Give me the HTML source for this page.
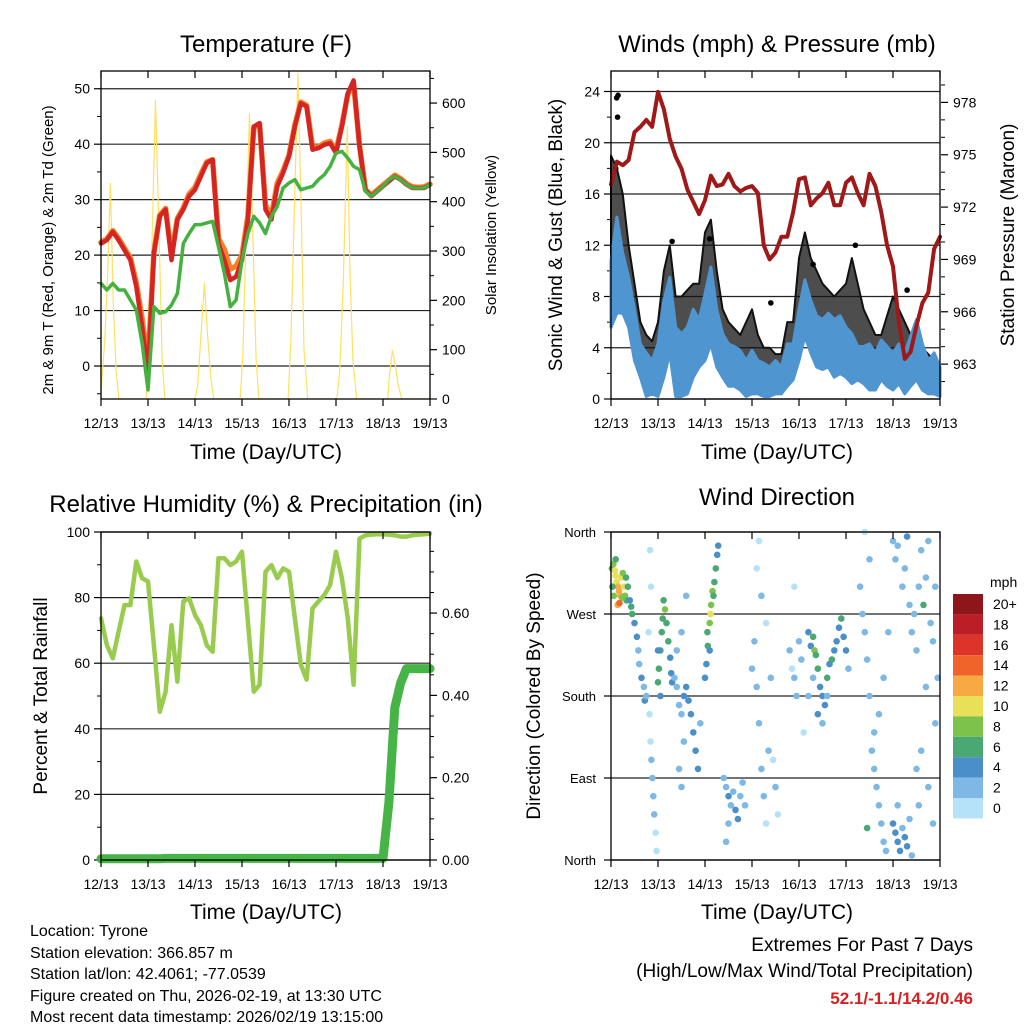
<!DOCTYPE html>
<html><head><meta charset="utf-8"><style>
body{margin:0;background:#fff;width:1024px;height:1024px;overflow:hidden;font-family:"Liberation Sans",sans-serif}
svg{position:absolute;left:0;top:0}
</style></head><body>
<svg id="s" width="1024" height="1024" viewBox="0 0 1024 1024" font-family="Liberation Sans, sans-serif">
<text x="266" y="52" font-size="24" text-anchor="middle">Temperature (F)</text>
<text x="777" y="52" font-size="24" text-anchor="middle">Winds (mph) &amp; Pressure (mb)</text>
<text x="266" y="512" font-size="24" text-anchor="middle">Relative Humidity (%) &amp; Precipitation (in)</text>
<text x="777" y="505" font-size="24" text-anchor="middle">Wind Direction</text>
<text x="266" y="459" font-size="21" text-anchor="middle">Time (Day/UTC)</text>
<text x="777" y="459" font-size="21" text-anchor="middle">Time (Day/UTC)</text>
<text x="266" y="919" font-size="21" text-anchor="middle">Time (Day/UTC)</text>
<text x="777" y="919" font-size="21" text-anchor="middle">Time (Day/UTC)</text>
<text transform="translate(53,250) rotate(-90)" font-size="15" text-anchor="middle">2m &amp; 9m T (Red, Orange) &amp; 2m Td (Green)</text>
<text transform="translate(496,235) rotate(-90)" font-size="15" text-anchor="middle">Solar Insolation (Yellow)</text>
<text transform="translate(562,235) rotate(-90)" font-size="19" text-anchor="middle">Sonic Wind &amp; Gust (Blue, Black)</text>
<text transform="translate(1014,235) rotate(-90)" font-size="19" text-anchor="middle">Station Pressure (Maroon)</text>
<text transform="translate(47,696) rotate(-90)" font-size="19" text-anchor="middle">Percent &amp; Total Rainfall</text>
<text transform="translate(540,696) rotate(-90)" font-size="19" text-anchor="middle">Direction (Colored By Speed)</text>
<g font-size="16">
<text x="30" y="936">Location: Tyrone</text>
<text x="30" y="958">Station elevation: 366.857 m</text>
<text x="30" y="979">Station lat/lon: 42.4061; -77.0539</text>
<text x="30" y="1001">Figure created on Thu, 2026-02-19, at 13:30 UTC</text>
<text x="30" y="1022">Most recent data timestamp: 2026/02/19 13:15:00</text>
</g>
<g font-size="19" text-anchor="end">
<text x="973" y="951">Extremes For Past 7 Days</text>
<text x="973" y="977">(High/Low/Max Wind/Total Precipitation)</text>
<text x="973" y="1004" fill="#d42020" font-weight="bold" font-size="17">52.1/-1.1/14.2/0.46</text>
</g>
<g id="layer"></g>
</svg>
<script>
const xTickLabels=["12/13","13/13","14/13","15/13","16/13","17/13","18/13","19/13"];
const tempT=[22.1,22.7,24.2,22.7,20.9,19.1,14.3,7.1,-1.1,20.3,27,28.2,19.1,26.4,28.2,30.6,31.8,34.2,36.6,37.2,22.1,19.1,15.5,16.1,19.1,26.4,43.2,43.8,28.2,26.4,32.4,34.8,37.8,43.2,47.4,46.8,39,39.3,39.9,40.2,38.4,43.2,49.2,51.5,39.6,31.8,30.6,31.5,32.4,33.3,34.2,33.6,32.7,32.1,32.1,32.1,32.7];
const temp9m=[22.3,22.9,24.4,23,21.2,19.5,15,8.5,0.5,20.5,27.2,28.4,20,26.6,28.5,31,32.2,34.6,36.8,37.2,23,21,17.5,18,20,27,43,43.6,29,27,33,35.2,38,43.5,47.6,47,39.5,39.5,40.2,40.5,38.8,43.4,49,51,39.8,31.8,30.8,31.7,32.6,33.5,34.4,33.8,32.9,32.3,32.2,32.3,32.8];
const tempTd=[14.9,13.7,14.9,13.7,13.7,11.9,10.1,4.1,-4.3,10.7,9.5,9.8,11,13.1,22.1,23.9,25.5,25.5,25.8,26.1,21.5,16.7,10.7,11.9,19.1,23.9,27,25.8,23.9,27,28.8,32.1,33,33.6,31.8,32.1,32.4,33.6,34.5,36,38.4,38.7,37.5,36,35.4,31.5,30.6,31.5,32.4,33.6,34.2,33.6,32.7,32.1,32.1,32.1,32.7];
const solarT=[0,0.02,0.08,0.14,0.2,0.26,0.32,0.38,0.96,1.02,1.08,1.16,1.24,1.3,1.36,2.0,2.06,2.14,2.2,2.26,2.34,2.4,2.96,3.02,3.08,3.16,3.24,3.3,3.36,3.98,4.04,4.12,4.19,4.26,4.32,4.4,5.02,5.08,5.16,5.24,5.3,5.36,5.44,6.1,6.14,6.2,6.26,6.32,6.4,7.0];
const solarV=[0,40,120,250,437,200,60,0,0,80,300,606,320,80,0,0,30,150,235,140,40,0,0,90,320,578,300,80,0,0,120,400,660,380,100,0,0,60,250,552,250,80,0,0,50,99,70,30,0,0];
const pressure=[973.3,974.6,974.4,974.7,976.3,976.6,977,976.6,978.6,977.6,975.9,974.9,974.2,973,972.3,971.6,972.4,973.8,973.2,973.3,973.9,973.2,972.9,973.1,973.2,972.8,969.8,969,969.4,970.3,970.3,971.7,973.6,973.7,972.1,972.5,972.8,973.4,972.1,972.1,973.4,973.7,972.8,972.1,973.9,973.2,971.7,969.8,968.6,965.4,963.3,963.7,965.2,966.5,967.1,969.6,970.3];
const windHi=[10.8,14.2,11.4,9.5,7,4.3,3.6,3,4.3,7.7,9.5,5.6,5.1,5.6,7,6.2,8.2,10.3,7,5.1,4.3,4.1,3.8,3,3.8,3,2.8,2.5,3,2.5,4.3,4.3,7,9.3,7.7,6.5,6.2,6.7,6.2,6.5,5.6,5.1,4.1,4.1,4.3,3.6,4.6,4.1,3.6,4.3,3.6,4.9,6.2,4.3,3,3.6,2.5];
const windLo=[5.6,6.7,6.7,5.6,3,1.7,0.2,0.4,0.2,1.7,3.6,0.2,0.2,0.4,1.7,2.5,3,4.3,2.5,1.7,1,1,0.7,0.2,0.4,0.4,0.2,0.2,0.4,0.4,1,1.5,3,4.9,3.6,2.5,2.3,2.5,1.7,2,1.7,1.2,1.5,1.2,0.7,0.7,1.5,1,0.7,1.2,0.4,1,1.5,0.7,0.4,0.4,0.2];
const gust=[19,18,16,12,9,6,5,4.5,6,10,12,8,8,8.5,9,9,13,14,10,7,6,5.5,5,6,7,5,4,4,3.5,3.5,6,6,11,13,11,10,9,8.5,8,8.5,9,11,9,7,6,5,5,6.5,8,7,6,5,5,4,3.5,3,2.5];
const gustOutT=[0.12,0.15,0.14,0.1,1.3,2.1,3.4,4.3,5.2,6.3];
const gustOutV=[23.5,23.7,22,18,12.3,12.5,7.5,10.5,12,8.5];
const rh=[73.7,65.5,61.5,69.6,77.7,77.7,91,85.9,84.9,65.5,45.2,51.3,71.6,54.4,78.8,79.8,74.7,71.6,65.5,63.5,92,92,89.9,91,94,72.7,51.3,53.4,87.9,89.9,85.9,88.9,87.9,73.7,59.5,55,76.7,78.8,80.8,83.8,94,85.9,73.7,53.4,98,99,99.2,99.3,99.3,99.2,99,98.6,98.6,99,99.2,99.3,99.5];
const precip=[0.003,0.003,0.003,0.003,0.003,0.003,0.003,0.003,0.003,0.003,0.003,0.004,0.004,0.004,0.004,0.004,0.004,0.004,0.004,0.004,0.004,0.004,0.004,0.004,0.004,0.004,0.004,0.004,0.004,0.004,0.004,0.004,0.004,0.004,0.004,0.004,0.004,0.004,0.004,0.004,0.004,0.004,0.004,0.004,0.004,0.004,0.004,0.004,0.004,0.14,0.37,0.43,0.465,0.465,0.465,0.465,0.465];
const dirPts=[[0.02,320,7],[0.05,325,8],[0.08,318,10],[0.1,312,11],[0.12,305,10],[0.15,300,12],[0.17,295,13],[0.2,290,12],[0.22,310,11],[0.25,315,9],[0.28,300,10],[0.3,290,8],[0.33,285,7],[0.36,300,6],[0.4,285,5],[0.43,278,7],[0.45,270,6],[0.03,300,7],[0.06,290,8],[0.14,280,13],[0.18,282,14],[0.24,288,9],[0.1,330,7],[0.32,310,7],
[0.5,260,5],[0.55,245,4],[0.58,230,3],[0.6,215,3],[0.65,200,4],[0.7,190,3],[0.72,175,4],[0.75,180,2],
[0.82,160,1],[0.84,130,1],[0.86,110,2],[0.88,90,2],[0.9,70,2],[0.92,50,2],[0.95,30,1],[0.97,10,1],[0.83,340,1],[0.85,300,1],[0.8,250,1],
[1.0,195,6],[1.02,210,7],[1.05,230,6],[1.08,250,7],[1.1,265,7],[1.12,285,7],[1.15,275,8],[1.18,260,6],[1.22,240,6],[1.26,222,5],[1.28,205,5],[1.3,195,4],[1.0,230,4],[1.05,180,5],
[1.35,200,3],[1.4,190,3],[1.45,170,2],[1.5,160,3],[1.55,180,4],[1.6,190,5],[1.65,175,5],[1.7,160,5],[1.75,140,4],[1.8,120,5],[1.85,100,4],[1.9,150,3],[1.4,230,2],[1.5,250,2],[1.6,290,2],[1.55,130,2],[1.45,100,2],[1.5,80,2],
[2.0,200,4],[2.03,215,5],[2.06,235,6],[2.1,260,8],[2.13,280,9],[2.16,295,8],[2.2,305,7],[2.23,320,6],[2.26,335,5],[2.28,345,4],[2.05,250,7],[2.12,270,10],[2.18,290,7],[2.1,230,5],
[2.4,90,3],[2.45,80,3],[2.5,70,4],[2.55,60,3],[2.6,75,3],[2.65,55,5],[2.7,45,4],[2.75,70,3],[2.8,85,2],[2.85,60,2],[2.5,40,2],[2.45,20,2],
[3.0,210,2],[3.05,240,3],[3.1,190,2],[3.15,150,2],[3.2,100,3],[3.25,70,2],[3.3,40,1],[3.35,120,2],[3.1,320,1],[3.15,350,1],[3.2,290,2],[3.3,260,1],[3.4,200,2],[3.45,110,1],[3.5,80,2],[3.55,50,1],
[3.8,230,2],[3.85,210,1],[3.9,200,2],[3.95,180,2],[4.0,240,2],[4.05,220,3],[3.9,300,1],[4.1,140,1],
[4.2,250,4],[4.25,235,5],[4.3,245,7],[4.33,230,8],[4.36,225,7],[4.4,210,6],[4.45,190,5],[4.5,180,4],[4.55,170,5],[4.6,200,6],[4.65,215,5],[4.7,220,6],[4.75,230,4],[4.8,240,5],[4.85,255,5],[4.9,265,6],[4.95,245,4],[5.0,230,5],[5.05,210,3],[4.4,160,4],[4.5,150,3],[4.6,180,3],[4.3,200,3],[4.2,180,2],
[5.3,300,2],[5.35,270,3],[5.4,250,2],[5.45,220,2],[5.5,180,3],[5.4,360,1],[5.5,330,2],
[5.55,120,2],[5.6,100,2],[5.65,80,3],[5.7,60,3],[5.75,40,2],[5.8,20,2],[5.85,10,3],[5.45,35,7],[5.6,140,3],[5.7,160,2],[5.8,200,2],[5.9,250,2],
[6.0,40,4],[6.05,30,4],[6.1,20,5],[6.15,10,4],[6.2,35,3],[6.25,25,4],[6.3,15,5],[6.35,45,3],[6.4,5,3],[6.1,60,3],
[6.0,350,2],[6.05,330,3],[6.1,345,2],[6.2,300,2],[6.25,320,3],[6.3,355,4],[6.35,280,2],[6.4,250,3],[6.45,270,2],[6.5,230,3],[6.55,300,2],[6.6,340,2],[6.65,280,6],[6.7,310,2],[6.75,350,2],[6.8,260,3],[6.85,240,2],[6.9,300,2],[6.95,200,2],[6.7,190,2],[6.6,120,2],[6.75,80,2],[6.85,40,2],[6.9,150,2],[6.5,100,2],[6.55,60,2]];
const speedColors=["#b5e2f8","#7db9e4","#4a8fc8","#4aa872","#7dc24a","#e8e058","#f7a944","#f0632a","#dc3428","#bb1e27","#8e1519"];
const speedLabels=["0","2","4","6","8","10","12","14","16","18","20+"];
const dirLabels=["North","East","South","West","North"];

const NS="http://www.w3.org/2000/svg";
const layer=document.getElementById('layer');
function mk(tag,attrs,parent){const e=document.createElementNS(NS,tag);for(const k in attrs)e.setAttribute(k,attrs[k]);(parent||layer).appendChild(e);return e;}
const P={top:71,bot:399,w:329};
function xs(x0){return t=>x0+t*P.w/7;}
function ys(top,bot,lo,hi){return v=>bot-(v-lo)*(bot-top)/(hi-lo);}
function line(pts,stroke,sw,name,extra){
  const e=mk('polyline',Object.assign({points:pts.map(p=>p[0].toFixed(1)+','+p[1].toFixed(1)).join(' '),fill:'none',stroke:stroke,'stroke-width':sw,'stroke-linejoin':'round','stroke-linecap':'round'},extra||{}));
  
  
  return e;
}
function frame(x0,top,bot,name){
  const g=mk('g',{});
  
  
  const X=xs(x0);
  for(let d=0;d<=7;d++){
    const x=X(d);
    mk('line',{x1:x,x2:x,y1:bot,y2:bot+7,stroke:'#000','stroke-width':1.2},g);
    mk('line',{x1:x,x2:x,y1:top,y2:top+7,stroke:'#000','stroke-width':1.2},g);
    const t=mk('text',{x:x,y:bot+29,'font-size':14,'text-anchor':'middle'},g);t.textContent=xTickLabels[d];
    
    
  }
  mk('rect',{x:x0,y:top,width:P.w,height:bot-top,fill:'none',stroke:'#000','stroke-width':1.3},g);
  return g;
}
function yaxis(x,side,vals,Y,fmt,grid,x0,minor){
  vals.forEach(v=>{
    const y=Y(v);
    if(grid) mk('line',{x1:x0,x2:x0+P.w,y1:y,y2:y,stroke:'#222','stroke-width':1.2});
    mk('line',{x1:x,x2:x+side*7,y1:y,y2:y,stroke:'#000','stroke-width':1.2});
    const t=mk('text',{x:x+side*(side<0?11:12),y:y+5,'font-size':14,'text-anchor':side<0?'end':'start'});
    t.textContent=fmt(v);
    
    
  });
  (minor||[]).forEach(v=>{const y=Y(v);mk('line',{x1:x,x2:x+side*4,y1:y,y2:y,stroke:'#000','stroke-width':1});});
}
const step=i=>i*0.125;
{
  const X=xs(101),Y=ys(71,399,-5.95,53.2),S=ys(71,399,0,665);
  yaxis(101,-1,[0,10,20,30,40,50],Y,v=>v,true,101,[-5,5,15,25,35,45]);
  yaxis(430,1,[0,100,200,300,400,500,600],S,v=>v,false,101,[50,150,250,350,450,550,650]);
  const cp=mk('clipPath',{id:'c1'});mk('rect',{x:101,y:71,width:329,height:328},cp);
  line(solarT.map((t,i)=>[X(t),S(solarV[i])]),'#ffe060',1.2,'solar-line',{'clip-path':'url(#c1)'});
  line(temp9m.map((v,i)=>[X(step(i)),Y(v)]),'#f5802a',5.5,'temp-9m-line');
  line(tempT.map((v,i)=>[X(step(i)),Y(v)]),'#d42424',4.5,'temp-2m-line');
  line(tempTd.map((v,i)=>[X(step(i)),Y(v)]),'#46b040',3.5,'dewpoint-line');
  frame(101,71,399,'temperature-axes');
}
{
  const X=xs(611),Y=ys(71,399,0,25.6),PY=ys(71,399,961,979.8);
  yaxis(611,-1,[0,4,8,12,16,20,24],Y,v=>v,true,611,[2,6,10,14,18,22]);
  yaxis(941,1,[963,966,969,972,975,978],PY,v=>v,false,611,[962,964,965,967,968,970,971,973,974,976,977,979]);
  const gp=gust.map((v,i)=>[X(step(i)),Y(v)]).concat(windHi.map((v,i)=>[X(step(i)),Y(v)]).reverse());
  const g=mk('polygon',{points:gp.map(p=>p.join(',')).join(' '),fill:'#111','fill-opacity':0.75,stroke:'#111','stroke-width':2,'stroke-linejoin':'round'});
  
  
  gustOutT.forEach((t,i)=>{const c=mk('circle',{cx:X(t),cy:Y(gustOutV[i]),r:2.8,fill:'#000'});
    
    });
  const wp=windHi.map((v,i)=>[X(step(i)),Y(v)]).concat(windLo.map((v,i)=>[X(step(i)),Y(v)]).reverse());
  const w=mk('polygon',{points:wp.map(p=>p.join(',')).join(' '),fill:'#4f95d0',stroke:'#4f95d0','stroke-width':3,'stroke-linejoin':'round'});
  
  
  line(pressure.map((v,i)=>[X(step(i)),PY(v)]),'#a01818',4,'pressure-line');
  frame(611,71,399,'wind-axes');
}
{
  const X=xs(101),Y=ys(532,860,0,100),R=ys(532,860,0,0.797);
  yaxis(101,-1,[0,20,40,60,80,100],Y,v=>v,true,101,[10,30,50,70,90]);
  yaxis(430,1,[0,0.2,0.4,0.6],R,v=>v.toFixed(2),false,101,[0.05,0.1,0.15,0.25,0.3,0.35,0.45,0.5,0.55,0.65,0.7,0.75]);
  line(rh.map((v,i)=>[X(step(i)),Y(v)]),'#99cc4e',4.5,'rh-line');
  line(precip.map((v,i)=>[X(step(i)),R(v)]),'#46b446',9,'precip-line');
  frame(101,532,860,'rh-axes');
}
{
  const X=xs(611),Y=ys(532,860,0,360);
  [0,90,180,270,360].forEach((v,i)=>{const y=Y(v);
    mk('line',{x1:611,x2:940,y1:y,y2:y,stroke:'#222','stroke-width':1.2});
    mk('line',{x1:604,x2:611,y1:y,y2:y,stroke:'#000','stroke-width':1.2});
    const t=mk('text',{x:596,y:y+5,'font-size':13,'text-anchor':'end'});t.textContent=dirLabels[i];
    
    });
  dirPts.forEach(p=>{
    const bin=Math.min(10,Math.floor(p[2]/2));
    const c=mk('circle',{cx:X(p[0]).toFixed(1),cy:Y(p[1]).toFixed(1),r:3.3,fill:speedColors[bin]});
    
    
  });
  frame(611,532,860,'direction-axes');
  const lg=mk('g',{});
  
  
  const t0=mk('text',{x:990,y:587,'font-size':14},lg);t0.textContent='mph';
  for(let k=0;k<11;k++){
    const idx=10-k,y=594+k*20.4;
    mk('rect',{x:953,y:y,width:30,height:20.4,fill:speedColors[idx]},lg);
    const t=mk('text',{x:993,y:y+15,'font-size':14},lg);t.textContent=speedLabels[idx];
    
    
  }
}
</script>
</body></html>
